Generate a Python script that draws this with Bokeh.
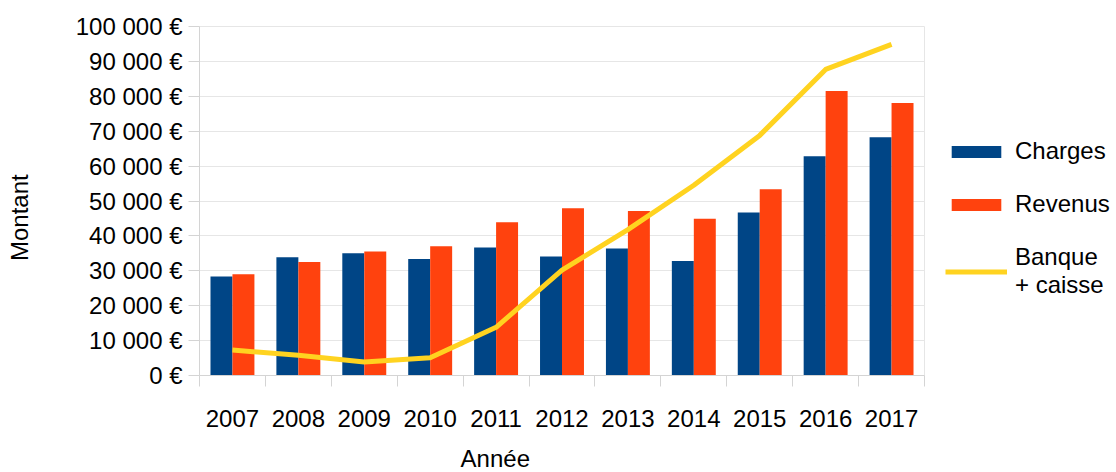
from bokeh.plotting import figure
from bokeh.models import (Range1d, FixedTicker, Legend, LegendItem, ColumnDataSource)
from bokeh.transform import dodge
from bokeh.embed import file_html
from bokeh.resources import INLINE

years = ["2007", "2008", "2009", "2010", "2011", "2012", "2013", "2014", "2015", "2016", "2017"]
charges = [28400, 33900, 35000, 33400, 36700, 34100, 36400, 32800, 46700, 62800, 68300]
revenus = [29000, 32500, 35500, 37000, 43900, 47900, 47100, 44900, 53400, 81500, 78100]
banque = [7300, 5800, 3900, 5100, 13800, 30200, 41800, 54500, 68800, 87700, 94900]
y_ticks = [0, 10000, 20000, 30000, 40000, 50000, 60000, 70000, 80000, 90000, 100000]
y_labels = ["0 €", "10 000 €", "20 000 €", "30 000 €", "40 000 €", "50 000 €",
            "60 000 €", "70 000 €", "80 000 €", "90 000 €", "100 000 €"]
series_names = ["Charges", "Revenus", "Banque\n+ caisse"]
x_title = "Année"
y_title = "Montant"

FONT = "Liberation Sans"
GRID = "#e6e6e6"
TICK = "#d4d4d4"
NBSP = "\u00a0"

n = len(years)
xc = [i + 0.5 for i in range(n)]  # category centres on the index scale

p = figure(frame_width=725, frame_height=349,
           x_range=Range1d(0, n),
           y_range=Range1d(0, 100000),
           output_backend="svg", toolbar_location=None,
           min_border_left=199, min_border_right=192,
           min_border_top=26, min_border_bottom=97)
p.outline_line_color = GRID
p.background_fill_color = "white"
p.xgrid.visible = False

# y axis
p.yaxis.ticker = FixedTicker(ticks=y_ticks, minor_ticks=[])
p.yaxis.major_label_overrides = {t: l for t, l in zip(y_ticks, y_labels)}
p.yaxis.major_label_text_font = FONT
p.yaxis.major_label_text_font_size = "24px"
p.yaxis.major_label_text_color = "black"
p.yaxis.major_tick_out = 11
p.yaxis.major_tick_in = 0
p.yaxis.major_tick_line_color = TICK
p.yaxis.axis_line_color = TICK
p.yaxis.major_label_standoff = 6
# axis title, shifted along the axis by non-breaking padding (as in the reference)
p.yaxis.axis_label = y_title + NBSP * 5
p.yaxis.axis_label_text_font = FONT
p.yaxis.axis_label_text_font_size = "24px"
p.yaxis.axis_label_text_font_style = "normal"
p.yaxis.axis_label_text_color = "black"
p.yaxis.axis_label_standoff = 40
p.ygrid.ticker = FixedTicker(ticks=y_ticks)
p.ygrid.grid_line_color = GRID

# x axis: labels at centres, tick marks at category boundaries
xaxis = p.xaxis[0]
xaxis.ticker = FixedTicker(ticks=xc, minor_ticks=list(range(n + 1)))
xaxis.major_label_overrides = {c: y for c, y in zip(xc, years)}
xaxis.major_tick_out = 0
xaxis.major_tick_in = 0
xaxis.minor_tick_out = 11
xaxis.minor_tick_in = 0
xaxis.minor_tick_line_color = TICK
xaxis.axis_line_color = TICK
xaxis.major_label_text_font = FONT
xaxis.major_label_text_font_size = "24px"
xaxis.major_label_text_color = "black"
xaxis.major_label_standoff = 23
xaxis.axis_label = x_title + NBSP * 20
xaxis.axis_label_text_font = FONT
xaxis.axis_label_text_font_size = "24px"
xaxis.axis_label_text_font_style = "normal"
xaxis.axis_label_text_color = "black"
xaxis.axis_label_standoff = 15

src = ColumnDataSource(dict(x=xc, year=years, charges=charges, revenus=revenus, banque=banque))
r1 = p.vbar(x=dodge("x", -1/6), top="charges", width=1/3,
            source=src, fill_color="#004586", line_color=None)
r2 = p.vbar(x=dodge("x", 1/6), top="revenus", width=1/3,
            source=src, fill_color="#ff420e", line_color=None)
r3 = p.line(x="x", y="banque", source=src, line_color="#ffd320", line_width=5,
            line_join="round")

legend = Legend(items=[LegendItem(label=series_names[0], renderers=[r1]),
                       LegendItem(label=series_names[1], renderers=[r2]),
                       LegendItem(label=series_names[2], renderers=[r3])],
                location=(21, 76), margin=0, padding=0,
                border_line_alpha=0, background_fill_alpha=0,
                glyph_width=62, glyph_height=15,
                label_text_font=FONT, label_text_font_size="24px",
                label_text_color="black",
                label_standoff=8, spacing=25, label_height=26)
p.add_layout(legend, "right")

open("out.html", "w").write(file_html(p, INLINE))
